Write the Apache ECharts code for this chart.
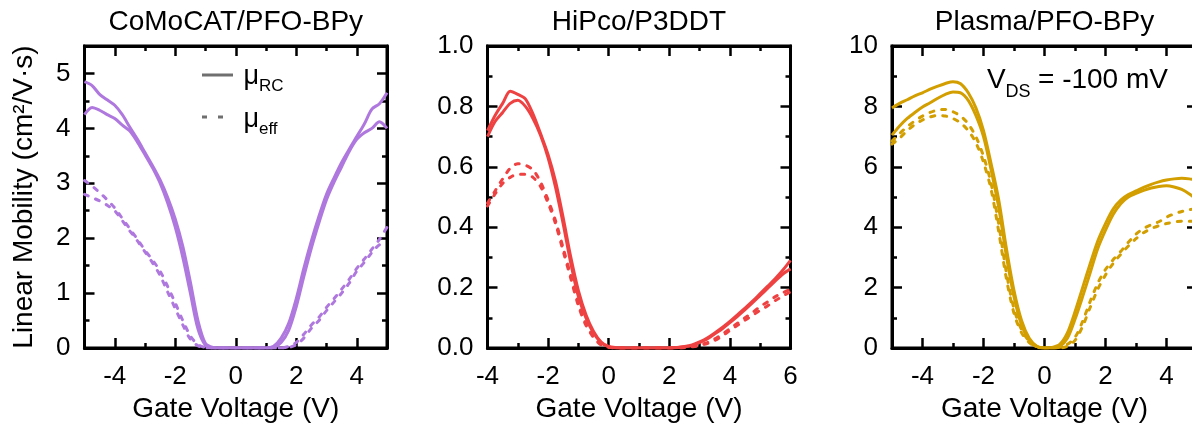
<!DOCTYPE html>
<html>
<head>
<meta charset="utf-8">
<script src="https://cdn.jsdelivr.net/npm/echarts@6/dist/echarts.min.js"></script>
<style>html,body{margin:0;padding:0;background:#fff}#c{width:1192px;height:423px}</style>
</head>
<body>
<div id="c"></div>
<script>
const FONT = '"Liberation Sans", Arial, sans-serif';
const panelTitles = ['CoMoCAT/PFO-BPy', 'HiPco/P3DDT', 'Plasma/PFO-BPy'];
const xAxisTitle = 'Gate Voltage (V)';
const yAxisTitle = 'Linear Mobility (cm²/V·s)';
const colors = ['#AF78DE', '#EE4242', '#D29E00'];

// gate voltage grids (V)
const vgCo = [-5,-4.75,-4.5,-4.25,-4,-3.75,-3.5,-3.25,-3,-2.75,-2.5,-2.25,-2,-1.75,-1.5,-1.25,-1,-0.75,-0.5,-0.25,0,0.25,0.5,0.75,1,1.25,1.5,1.75,2,2.25,2.5,2.75,3,3.25,3.5,3.75,4,4.25,4.5,4.75,5];
const vgHi = [-4,-3.75,-3.5,-3.25,-3,-2.75,-2.5,-2.25,-2,-1.75,-1.5,-1.25,-1,-0.75,-0.5,-0.25,0,0.25,0.5,0.75,1,1.25,1.5,1.75,2,2.25,2.5,2.75,3,3.25,3.5,3.75,4,4.25,4.5,4.75,5,5.25,5.5,5.75,6];
const vgPl = vgCo;

// CoMoCAT/PFO-BPy: mu_RC (solid) and mu_eff (dashed), two sweeps each
const coRcA  = [4.85,4.78,4.62,4.52,4.42,4.25,4.02,3.80,3.56,3.32,3.06,2.74,2.35,1.85,1.20,0.50,0.08,0.01,0,0,0,0,0,0,0,0.03,0.18,0.45,0.90,1.45,1.95,2.40,2.80,3.10,3.38,3.62,3.85,4.08,4.35,4.45,4.65];
const coRcB  = [4.25,4.38,4.33,4.25,4.18,4.06,3.95,3.75,3.52,3.28,3.00,2.64,2.20,1.65,1.00,0.35,0.05,0,0,0,0,0,0,0,0,0.01,0.10,0.32,0.75,1.30,1.82,2.28,2.70,3.02,3.30,3.58,3.80,3.92,4.00,4.12,4.00];
const coEffA = [3.05,2.95,2.83,2.70,2.55,2.36,2.17,1.98,1.78,1.60,1.40,1.12,0.82,0.50,0.22,0.06,0.01,0,0,0,0,0,0,0,0,0,0,0.03,0.10,0.25,0.42,0.56,0.74,0.90,1.07,1.25,1.45,1.62,1.80,1.98,2.20];
const coEffB = [2.80,2.74,2.68,2.60,2.50,2.32,2.13,1.95,1.75,1.55,1.32,1.02,0.72,0.42,0.16,0.04,0,0,0,0,0,0,0,0,0,0,0,0.01,0.06,0.18,0.36,0.50,0.68,0.84,1.00,1.18,1.40,1.56,1.74,1.88,1.92];

// HiPco/P3DDT
const hiRcA  = [0.72,0.77,0.81,0.85,0.84,0.825,0.775,0.71,0.64,0.55,0.43,0.30,0.19,0.11,0.055,0.02,0.005,0.001,0,0,0,0,0,0,0,0.002,0.005,0.01,0.02,0.033,0.05,0.068,0.088,0.11,0.132,0.155,0.18,0.205,0.23,0.258,0.29];
const hiRcB  = [0.70,0.75,0.78,0.81,0.82,0.80,0.76,0.705,0.63,0.53,0.41,0.28,0.17,0.10,0.05,0.018,0.004,0,0,0,0,0,0,0,0,0.001,0.004,0.008,0.018,0.03,0.047,0.064,0.084,0.105,0.127,0.15,0.174,0.198,0.222,0.245,0.262];
const hiEffA = [0.48,0.52,0.56,0.595,0.61,0.605,0.59,0.55,0.49,0.42,0.33,0.24,0.15,0.08,0.04,0.012,0.003,0,0,0,0,0,0,0,0,0,0.002,0.005,0.01,0.018,0.03,0.046,0.064,0.082,0.10,0.118,0.137,0.153,0.17,0.183,0.195];
const hiEffB = [0.47,0.51,0.545,0.565,0.575,0.575,0.565,0.535,0.48,0.41,0.32,0.23,0.14,0.075,0.035,0.01,0.002,0,0,0,0,0,0,0,0,0,0.001,0.004,0.008,0.015,0.025,0.04,0.058,0.075,0.092,0.108,0.125,0.14,0.157,0.172,0.186];

// Plasma/PFO-BPy
const plRcA  = [7.95,8.1,8.22,8.35,8.45,8.57,8.67,8.76,8.82,8.75,8.45,7.95,7.2,6.1,4.9,3.3,1.9,0.9,0.32,0.06,0,0.02,0.12,0.5,1.2,2.0,2.8,3.55,4.12,4.6,4.9,5.08,5.2,5.32,5.42,5.5,5.56,5.6,5.62,5.6,5.55];
const plRcB  = [7.05,7.35,7.6,7.8,7.98,8.12,8.27,8.4,8.48,8.45,8.2,7.7,7.0,5.9,4.65,3.05,1.7,0.75,0.25,0.05,0,0,0.05,0.32,0.95,1.7,2.5,3.3,3.9,4.42,4.78,5.0,5.12,5.22,5.3,5.35,5.37,5.33,5.25,5.1,4.9];
const plEffA = [6.85,7.1,7.33,7.52,7.68,7.8,7.88,7.9,7.82,7.68,7.42,7.0,6.35,5.45,4.1,2.5,1.3,0.6,0.22,0.04,0,0,0.02,0.12,0.35,0.88,1.55,2.15,2.6,2.92,3.2,3.5,3.77,3.96,4.08,4.18,4.33,4.44,4.52,4.58,4.62];
const plEffB = [6.75,6.95,7.2,7.4,7.55,7.65,7.7,7.68,7.6,7.45,7.2,6.8,6.15,5.25,3.85,2.3,1.15,0.5,0.18,0.03,0,0,0,0.06,0.25,0.72,1.35,1.95,2.42,2.8,3.1,3.38,3.62,3.82,3.95,4.05,4.12,4.17,4.2,4.2,4.2];

// axis ranges [min, max, interval]
const xRanges = [[-5, 5, null], [-4, 6, 2], [-5, 5, null]];
const yRanges = [[0, 5.5, 1], [0, 1.0, 0.2], [0, 10, 2]];

const black = '#000';
// grid 0 is an unused off-canvas placeholder; panels use grids 1..3
const grids = [
  {left: -400, top: -400, width: 40, height: 40, outerBoundsMode: 'none'},
  {left: 84.5, top: 46, width: 302.5, height: 302},
  {left: 487.5, top: 46, width: 303, height: 302},
  {left: 892, top: 46, width: 305, height: 302}
].map((g, i) => i === 0 ? g : Object.assign(g, {outerBoundsMode: 'none', show: true, borderColor: black, borderWidth: 3}));

function baseAxis(g, pos, rng, showLabel) {
  const a = {
    type: 'value', gridIndex: g, position: pos, min: rng[0], max: rng[1],
    splitNumber: 5,
    axisLine: {show: true, onZero: false, lineStyle: {color: black, width: 3}},
    axisTick: {show: true, inside: true, length: 10, lineStyle: {color: black, width: 2.5}},
    minorTick: {show: true, splitNumber: 2, length: 5, lineStyle: {color: black, width: 2.5}},
    splitLine: {show: false}, minorSplitLine: {show: false},
    axisLabel: {show: showLabel, color: black, fontSize: 26, fontFamily: FONT,
      showMinLabel: false, showMaxLabel: false}
  };
  if (rng[2] != null) a.interval = rng[2];
  return a;
}

const xAxes = [baseAxis(0, 'bottom', [0, 1, 1], false)];
const yAxes = [baseAxis(0, 'left', [0, 1, 1], false)];
for (let p = 0; p < 3; p++) {
  const g = p + 1;
  const xb = baseAxis(g, 'bottom', xRanges[p], true);
  xb.axisLabel.margin = 16;
  if (p === 1) { xb.axisLabel.showMinLabel = true; xb.axisLabel.showMaxLabel = true; }
  xb.name = xAxisTitle; xb.nameLocation = 'middle'; xb.nameGap = 42;
  xb.nameTextStyle = {fontSize: 28, fontFamily: FONT, color: black};
  xAxes.push(xb);
  xAxes.push(baseAxis(g, 'top', xRanges[p], false));
  const yl = baseAxis(g, 'left', yRanges[p], true);
  yl.axisLabel.margin = 14;
  yl.axisLabel.showMinLabel = true;
  yl.axisLabel.showMaxLabel = (p !== 0);
  if (p === 1) yl.axisLabel.formatter = function (v) { return Number(v).toFixed(1); };
  if (p === 0) {
    yl.name = yAxisTitle;
    yl.nameLocation = 'middle'; yl.nameGap = 46;
    yl.nameTextStyle = {fontSize: 28, fontFamily: FONT, color: black};
  }
  yAxes.push(yl);
  yAxes.push(baseAxis(g, 'right', yRanges[p], false));
}

function line(p, xs, ys, color, dashed) {
  return {
    type: 'line', xAxisIndex: 1 + 2 * p, yAxisIndex: 1 + 2 * p,
    data: xs.map((x, i) => [x, ys[i]]),
    showSymbol: false, smooth: 0.3,
    lineStyle: {color: color, width: 3, type: dashed ? [4, 8] : 'solid', cap: dashed ? 'round' : 'butt'}
  };
}

const series = [
  line(0, vgCo, coEffA, colors[0], true), line(0, vgCo, coEffB, colors[0], true),
  line(0, vgCo, coRcA, colors[0], false), line(0, vgCo, coRcB, colors[0], false),
  line(1, vgHi, hiEffA, colors[1], true), line(1, vgHi, hiEffB, colors[1], true),
  line(1, vgHi, hiRcA, colors[1], false), line(1, vgHi, hiRcB, colors[1], false),
  line(2, vgPl, plEffA, colors[2], true), line(2, vgPl, plEffB, colors[2], true),
  line(2, vgPl, plRcA, colors[2], false), line(2, vgPl, plRcB, colors[2], false)
];

const titleCenters = [235.75, 639, 1044.5];
const titles = panelTitles.map((t, i) => ({
  text: t, left: titleCenters[i], top: 8, textAlign: 'center', padding: 0,
  textStyle: {fontSize: 28, fontWeight: 'normal', fontFamily: FONT, color: black}
}));

const legendGray = '#6f6f6f';
function txt(x, y, s, size) {
  return {type: 'text', z: 10, x: x, y: y, silent: true,
    style: {text: s, fontSize: size, fontFamily: FONT, fill: black, verticalAlign: 'middle', align: 'left'}};
}
const graphic = [
  {type: 'line', z: 10, silent: true, shape: {x1: 202, y1: 75, x2: 233, y2: 75}, style: {stroke: legendGray, lineWidth: 3}},
  {type: 'line', z: 10, silent: true, shape: {x1: 202, y1: 117, x2: 224, y2: 117}, style: {stroke: legendGray, lineWidth: 3, lineDash: [5, 11]}},
  txt(243.5, 77, 'μ', 27), txt(259, 86, 'RC', 17),
  txt(243.5, 120, 'μ', 27), txt(259, 129.5, 'eff', 17),
  txt(987, 80, 'V', 28), txt(1005.5, 92, 'DS', 18), txt(1038, 80, '= -100 mV', 28)
];

const chart = echarts.init(document.getElementById('c'));
chart.setOption({
  animation: false,
  title: titles,
  grid: grids,
  xAxis: xAxes,
  yAxis: yAxes,
  series: series,
  graphic: graphic
});
</script>
</body>
</html>
